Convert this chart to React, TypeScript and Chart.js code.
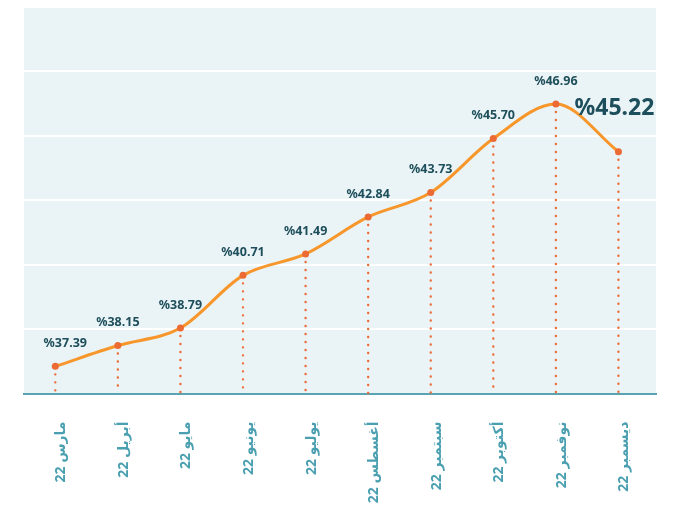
import React, { useEffect, useRef } from "react";
import { Chart, registerables } from "chart.js";

Chart.register(...registerables);

const categories = [
  "مارس 22",
  "أبريل 22",
  "مايو 22",
  "يونيو 22",
  "يوليو 22",
  "أغسطس 22",
  "سبتمبر 22",
  "أكتوبر 22",
  "نوفمبر 22",
  "ديسمبر 22",
];
const rates = [37.39, 38.15, 38.79, 40.71, 41.49, 42.84, 43.73, 45.7, 46.96, 45.22];
const valueLabels = ["%37.39", "%38.15", "%38.79", "%40.71", "%41.49", "%42.84", "%43.73", "%45.70", "%46.96", "%45.22"];

const Y_MIN = 36.4;
const Y_MAX = 50.5;
const GRID_STEPS = 6;

const BG = "#eaf3f5";
const LINE = "#f7962b";
const POINT = "#ec6a34";
const LABEL_DARK = "#1d4e5b";
const LABEL_AXIS = "#4a9fb0";
const FONT = "'Noto Sans', 'DejaVu Sans', sans-serif";

const bgPlugin = {
  id: "bgPlugin",
  beforeDraw(chart: any) {
    const { ctx, chartArea } = chart;
    ctx.save();
    ctx.fillStyle = BG;
    ctx.fillRect(chartArea.left, chartArea.top, chartArea.right - chartArea.left, chartArea.bottom - chartArea.top);
    ctx.restore();
  },
};

const dropPlugin = {
  id: "dropPlugin",
  beforeDatasetsDraw(chart: any) {
    const { ctx, chartArea } = chart;
    const meta = chart.getDatasetMeta(0);
    ctx.save();
    ctx.strokeStyle = POINT;
    ctx.lineWidth = 2.4;
    ctx.lineCap = "round";
    ctx.setLineDash([0, 8]);
    meta.data.forEach((pt: any) => {
      ctx.beginPath();
      ctx.moveTo(pt.x, pt.y + 8);
      ctx.lineTo(pt.x, chartArea.bottom);
      ctx.stroke();
    });
    ctx.restore();
  },
};

const labelPlugin = {
  id: "labelPlugin",
  afterDatasetsDraw(chart: any) {
    const { ctx } = chart;
    const meta = chart.getDatasetMeta(0);
    ctx.save();
    ctx.fillStyle = LABEL_DARK;
    ctx.textBaseline = "middle";
    ctx.textAlign = "center";
    const last = meta.data.length - 1;
    meta.data.forEach((pt: any, i: number) => {
      if (i === last) {
        ctx.font = `bold 23px ${FONT}`;
        ctx.fillText(valueLabels[i], pt.x - 4, pt.y - 43);
      } else {
        ctx.font = `bold 12.5px ${FONT}`;
        const dx = i === 0 ? 10 : 0;
        ctx.fillText(valueLabels[i], pt.x + dx, pt.y - 23);
      }
    });
    ctx.restore();
  },
};

export default function App() {
  const ref = useRef<HTMLCanvasElement>(null);

  useEffect(() => {
    if (!ref.current) return;
    const chart = new Chart(ref.current, {
      type: "line",
      data: {
        datasets: [
          {
            data: rates.map((v, i) => ({ x: i, y: v })),
            borderColor: LINE,
            borderWidth: 3,
            cubicInterpolationMode: "monotone",
            pointRadius: 3.5,
            pointBackgroundColor: POINT,
            pointBorderColor: POINT,
            pointBorderWidth: 0,
            fill: false,
          },
        ],
      },
      options: {
        responsive: false,
        animation: false,
        events: [],
        layout: { padding: { top: 7, left: 24, right: 20, bottom: 0 } },
        plugins: {
          legend: { display: false },
          tooltip: { enabled: false },
          title: { display: false },
        },
        scales: {
          x: {
            type: "linear",
            min: -0.5,
            max: 9.6,
            afterBuildTicks(scale: any) {
              scale.ticks = categories.map((_, i) => ({ value: i }));
            },
            afterFit(scale: any) {
              scale.height = 115.5;
            },
            grid: { display: false, drawTicks: false },
            border: { display: true, color: "#5aa4b2", width: 2 },
            ticks: {
              autoSkip: false,
              minRotation: 90,
              maxRotation: 90,
              padding: 28,
              labelOffset: 6,
              color: LABEL_AXIS,
              font: { family: FONT, size: 14, weight: "bold" },
              callback: (v: any) => categories[v as number] ?? "",
            },
          },
          y: {
            type: "linear",
            min: Y_MIN,
            max: Y_MAX,
            afterBuildTicks(scale: any) {
              const ticks = [];
              for (let i = 0; i <= GRID_STEPS; i++) ticks.push({ value: Y_MIN + ((Y_MAX - Y_MIN) * i) / GRID_STEPS });
              scale.ticks = ticks;
            },
            afterFit(scale: any) {
              scale.width = 0;
            },
            grid: {
              drawTicks: false,
              lineWidth: 2,
              color: (c: any) => (c.index === 0 ? "rgba(0,0,0,0)" : "#ffffff"),
            },
            border: { display: false },
            ticks: { display: false },
          },
        },
      },
      plugins: [bgPlugin, dropPlugin, labelPlugin],
    } as any);
    return () => chart.destroy();
  }, []);

  return (
    <div style={{ position: "absolute", left: 0, top: 0, width: 676, height: 509, background: "#fff" }}>
      <canvas ref={ref} width={676} height={509} dir="rtl" style={{ display: "block" }} />
    </div>
  );
}
